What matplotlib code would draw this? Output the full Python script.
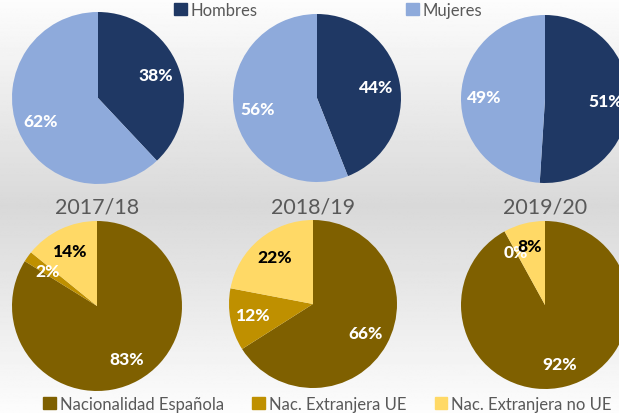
import numpy as np
import matplotlib.pyplot as plt
from matplotlib.patches import Patch

plt.rcParams['font.family'] = ['Lato', 'DejaVu Sans']

years = ['2017/18', '2018/19', '2019/20']

sexo_labels = ['Hombres', 'Mujeres']
hombres = [38, 44, 51]
mujeres = [62, 56, 49]

nac_labels = ['Nacionalidad Española', 'Nac. Extranjera UE', 'Nac. Extranjera no UE']
espanola = [83, 66, 92]
extranjera_ue = [2, 12, 0]
extranjera_no_ue = [14, 22, 8]

sexo_colors = ['#1f3864', '#8eaadb']
nac_colors = ['#7f6000', '#bf9000', '#ffd966']
nac_text = ['white', 'white', 'black']

W, H = 619, 414
# pie centres and radii in pixels (x, y from top, r)
top_pos = [(98, 99, 86), (317, 99, 84), (545, 100, 84)]
bot_pos = [(97, 307, 85), (313, 305, 84), (545, 306, 84)]

fig = plt.figure(figsize=(W / 100, H / 100), dpi=100)

# soft vertical gradient behind everything
bg = fig.add_axes([0, 0, 1, 1], zorder=-10)
yy = np.linspace(0, 1, 400)
shade = np.interp(yy, [0, 0.5, 1.0], [0.99, 0.85, 0.99])
bg.imshow(np.tile(shade[:, None], (1, 2)), cmap='gray', vmin=0, vmax=1,
          aspect='auto', extent=[0, 1, 0, 1], origin='upper')
bg.axis('off')


def pie_at(pos, values, colors, text_colors):
    cx, cy, r = pos
    ax = fig.add_axes([(cx - r) / W, (H - cy - r) / H, 2 * r / W, 2 * r / H])
    wedges, _ = ax.pie(values, colors=colors, startangle=90, counterclock=False,
                       radius=1, wedgeprops=dict(linewidth=0))
    for w, v, tc in zip(wedges, values, text_colors):
        mid = np.deg2rad((w.theta1 + w.theta2) / 2)
        ax.text(0.72 * np.cos(mid), 0.72 * np.sin(mid), f'{v}%', color=tc,
                fontsize=12.5, fontweight=900, ha='center', va='center')
    ax.set_xlim(-1, 1)
    ax.set_ylim(-1, 1)
    ax.set_aspect('equal')
    ax.axis('off')
    return ax


for i in range(3):
    pie_at(top_pos[i], [hombres[i], mujeres[i]], sexo_colors, ['white', 'white'])
    pie_at(bot_pos[i], [espanola[i], extranjera_ue[i], extranjera_no_ue[i]],
           nac_colors, nac_text)
    fig.text(bot_pos[i][0] / W, 1 - 208 / H, years[i], ha='center', va='center',
             fontsize=15.5, color='#595959')

top_handles = [Patch(color=c, label=l) for c, l in zip(sexo_colors, sexo_labels)]
fig.legend(handles=top_handles, loc='center left', bbox_to_anchor=(174 / W, 1 - 11 / H),
           ncol=2, frameon=False, fontsize=12, handlelength=0.75, handleheight=0.75,
           handletextpad=0.25, columnspacing=8.9, labelcolor='#595959',
           borderaxespad=0, borderpad=0)

bot_handles = [Patch(color=c, label=l) for c, l in zip(nac_colors, nac_labels)]
fig.legend(handles=bot_handles, loc='center left', bbox_to_anchor=(43 / W, 1 - 405 / H),
           ncol=3, frameon=False, fontsize=12, handlelength=0.75, handleheight=0.75,
           handletextpad=0.25, columnspacing=1.7, labelcolor='#595959',
           borderaxespad=0, borderpad=0)

fig.savefig('out.png', dpi=100)
